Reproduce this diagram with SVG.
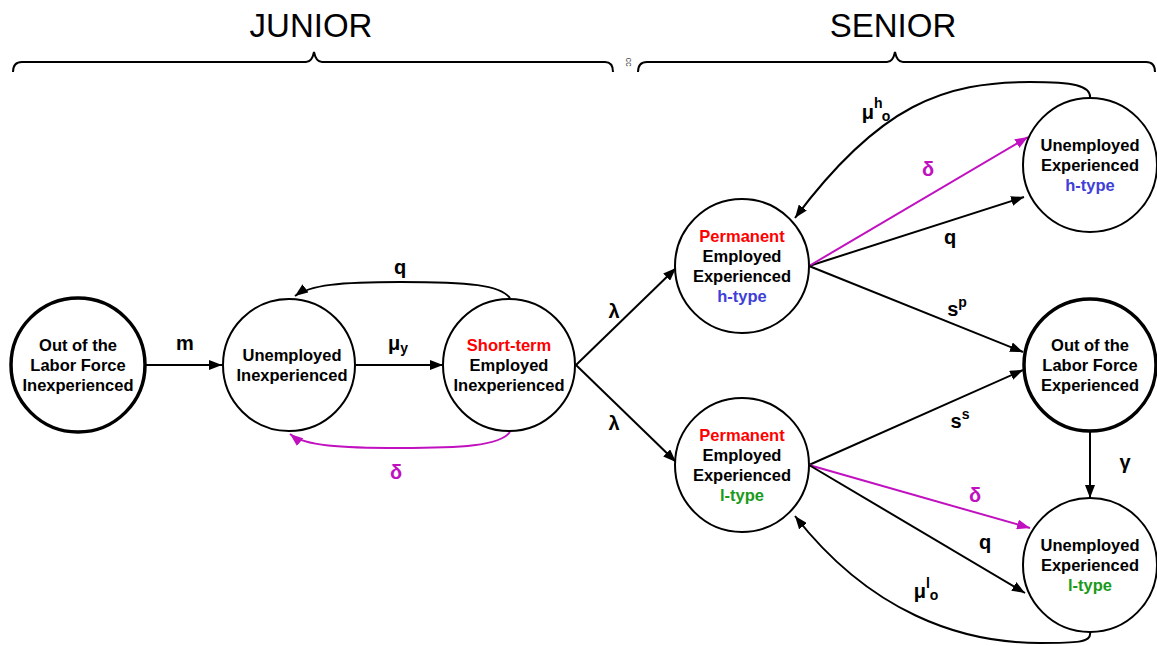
<svg xmlns="http://www.w3.org/2000/svg" width="1157" height="646" viewBox="0 0 1157 646">
<defs>
<marker id="ab" viewBox="0 0 13 10" refX="13" refY="5" markerWidth="13" markerHeight="10" markerUnits="userSpaceOnUse" orient="auto"><path d="M0,0 L13,5 L0,10 z" fill="#000"/></marker>
<marker id="am" viewBox="0 0 13 10" refX="13" refY="5" markerWidth="13" markerHeight="10" markerUnits="userSpaceOnUse" orient="auto"><path d="M0,0 L13,5 L0,10 z" fill="#C010C0"/></marker>
<style>
.n{fill:#fff;stroke:#000;stroke-width:2}
.nt{fill:#fff;stroke:#000;stroke-width:3.5}
.t{font-family:"Liberation Sans",Arial,sans-serif;font-size:16.5px;font-weight:bold;text-anchor:middle;fill:#000}
.r{fill:#FF0000}.b{fill:#3F3FD8}.g{fill:#1A9A1A}
.e{fill:none;stroke:#000;stroke-width:2;marker-end:url(#ab)}
.em{fill:none;stroke:#C010C0;stroke-width:2;marker-end:url(#am)}
.l{font-family:"Liberation Sans",Arial,sans-serif;font-size:20px;font-weight:bold;text-anchor:middle;fill:#000}
.lm{fill:#C010C0}
.h{font-family:"Liberation Sans",Arial,sans-serif;font-size:33px;text-anchor:middle;fill:#000}
.br{fill:none;stroke:#000;stroke-width:2}
</style>
</defs>
<g id="headers">
<text class="h" x="311" y="37">JUNIOR</text>
<text class="h" x="893" y="37">SENIOR</text>
<path class="br" d="M13,72 Q13,62 22,62 L306,62 Q312,62 314,52 Q316,62 322,62 L605,62 Q613,62 613,72"/>
<path class="br" d="M638,72 Q638,62 647,62 L887,62 Q893,62 895,52 Q897,62 903,62 L1146,62 Q1155,62 1155,72"/>
<text x="629" y="65" transform="rotate(90 629 62)" text-anchor="middle" font-family="Liberation Sans,Arial,sans-serif" font-size="9" fill="#444">cc</text>
</g>
<g id="connectors">
<path class="e" d="M146,365 L222,365"/>
<path class="e" d="M356,365 L443,365"/>
<path class="e" d="M510,298 C500,285 470,282 400,282 C340,282 310,285 295,296"/>
<path class="em" d="M510,432 C500,446 460,448 400,448 C340,448 305,446 290,434"/>
<path class="e" d="M576,365 L676,268"/>
<path class="e" d="M576,365 L676,462"/>
<path class="e" d="M809,266 L1024,197"/>
<path class="em" d="M809,266 L1028,137"/>
<path class="e" d="M809,266 L1023,352"/>
<path class="e" d="M1090,99 C1092,85 1072,82 1030,82 C945,82 880,104 795,218"/>
<path class="e" d="M809,465 L1023,370"/>
<path class="em" d="M809,465 L1030,528"/>
<path class="e" d="M809,465 L1025,593"/>
<path class="e" d="M1090,432 L1090,498"/>
<path class="e" d="M1090,632 C1092,643 1075,643 1040,643 C960,643 870,612 795,516"/>
</g>
<g id="labels">
<text class="l" x="185" y="350">m</text>
<text class="l" x="398" y="350">μ<tspan font-size="14" dy="3">y</tspan></text>
<text class="l" x="400" y="274">q</text>
<text class="l lm" x="396" y="479">δ</text>
<text class="l" x="614" y="318">λ</text>
<text class="l" x="614" y="430">λ</text>
<text class="l" x="876" y="119">μ<tspan font-size="14" dy="-11">h</tspan><tspan font-size="14" dx="-1" dy="13">o</tspan></text>
<text class="l lm" x="928" y="176">δ</text>
<text class="l" x="950" y="244">q</text>
<text class="l" x="957" y="316">s<tspan font-size="14" dy="-9">p</tspan></text>
<text class="l" x="960" y="428">s<tspan font-size="14" dy="-9">s</tspan></text>
<text class="l lm" x="975" y="502">δ</text>
<text class="l" x="985" y="549">q</text>
<text class="l" x="1125" y="469">γ</text>
<text class="l" x="926" y="598">μ<tspan font-size="14" dy="-10">l</tspan><tspan font-size="14" dx="0" dy="12">o</tspan></text>
</g>
<g id="olf_inexp">
<circle class="nt" cx="78" cy="365" r="67"/>
<text class="t" x="78" y="351">Out of the</text>
<text class="t" x="78" y="371">Labor Force</text>
<text class="t" x="78" y="391">Inexperienced</text>
</g>
<g id="unemp_inexp">
<circle class="n" cx="289" cy="365" r="66"/>
<text class="t" x="292" y="361">Unemployed</text>
<text class="t" x="292" y="381">Inexperienced</text>
</g>
<g id="st_emp_inexp">
<circle class="n" cx="509" cy="365" r="66"/>
<text class="t r" x="509" y="351">Short-term</text>
<text class="t" x="509" y="371">Employed</text>
<text class="t" x="509" y="391">Inexperienced</text>
</g>
<g id="perm_h">
<circle class="n" cx="742" cy="266" r="67"/>
<text class="t r" x="742" y="242">Permanent</text>
<text class="t" x="742" y="262">Employed</text>
<text class="t" x="742" y="282">Experienced</text>
<text class="t b" x="742" y="302">h-type</text>
</g>
<g id="perm_l">
<circle class="n" cx="742" cy="465" r="67"/>
<text class="t r" x="742" y="441">Permanent</text>
<text class="t" x="742" y="461">Employed</text>
<text class="t" x="742" y="481">Experienced</text>
<text class="t g" x="742" y="501">l-type</text>
</g>
<g id="unemp_h">
<circle class="n" cx="1090" cy="165" r="67"/>
<text class="t" x="1090" y="151">Unemployed</text>
<text class="t" x="1090" y="171">Experienced</text>
<text class="t b" x="1090" y="191">h-type</text>
</g>
<g id="olf_exp">
<circle class="nt" cx="1090" cy="365" r="66"/>
<text class="t" x="1090" y="351">Out of the</text>
<text class="t" x="1090" y="371">Labor Force</text>
<text class="t" x="1090" y="391">Experienced</text>
</g>
<g id="unemp_l">
<circle class="n" cx="1090" cy="565" r="67"/>
<text class="t" x="1090" y="551">Unemployed</text>
<text class="t" x="1090" y="571">Experienced</text>
<text class="t g" x="1090" y="591">l-type</text>
</g>
</svg>
